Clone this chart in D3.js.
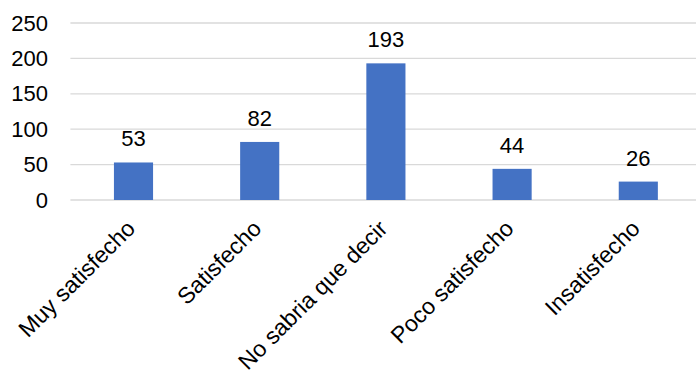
<!DOCTYPE html>
<meta charset="utf-8">
<style>
body { margin: 0; background: #fff; }
svg text { font-family: Arial, "Liberation Sans", sans-serif; fill: #000; }
.grid line { stroke: #d9d9d9; stroke-width: 1.3px; }
.bar { fill: #4472c4; }
</style>
<body>
<script src="https://d3js.org/d3.v7.min.js"></script>
<script>

// data
var categories = ["Muy satisfecho", "Satisfecho", "No sabria que decir", "Poco satisfecho", "Insatisfecho"];
var counts = [53, 82, 193, 44, 26];
var yTicks = [0, 50, 100, 150, 200, 250];

var width = 696, height = 375;

var svg = d3.select("body").append("svg")
    .attr("width", width)
    .attr("height", height);

// scales
var x = d3.scaleBand()
    .domain(categories)
    .range([70.4, 701.4])
    .paddingInner(0.69)
    .paddingOuter(0.345);

var y = d3.scaleLinear()
    .domain([0, 250])
    .range([200, 23]);

// gridlines
svg.append("g")
    .attr("class", "grid")
  .selectAll("line")
    .data(yTicks)
  .enter().append("line")
    .attr("x1", 70.4)
    .attr("x2", 701.4)
    .attr("y1", function(d) { return y(d); })
    .attr("y2", function(d) { return y(d); });

// y axis labels
var yAxis = svg.append("g")
    .attr("transform", "translate(48,0)")
    .call(d3.axisLeft(y).tickValues(yTicks).tickSize(0).tickPadding(0));
yAxis.select(".domain").remove();
yAxis.selectAll("text")
    .style("font-size", "22px")
    .style("font-family", "Arial, 'Liberation Sans', sans-serif")
    .attr("fill", "#000");

// bars
var data = categories.map(function(c, i) { return {cat: c, value: counts[i]}; });

svg.selectAll(".bar")
    .data(data)
  .enter().append("rect")
    .attr("class", "bar")
    .attr("x", function(d) { return x(d.cat); })
    .attr("width", x.bandwidth())
    .attr("y", function(d) { return y(d.value); })
    .attr("height", function(d) { return y(0) - y(d.value); });

// value labels
svg.selectAll(".value")
    .data(data)
  .enter().append("text")
    .attr("class", "value")
    .attr("x", function(d) { return x(d.cat) + x.bandwidth() / 2; })
    .attr("y", function(d) { return y(d.value) - 16; })
    .attr("text-anchor", "middle")
    .style("font-size", "22px")
    .text(function(d) { return d.value; });

// rotated category labels
svg.selectAll(".cat")
    .data(categories)
  .enter().append("text")
    .attr("class", "cat")
    .attr("transform", function(d) {
      return "translate(" + (x(d) + x.bandwidth() / 2 + 3) + ",230) rotate(-45)";
    })
    .attr("text-anchor", "end")
    .style("font-size", "23px")
    .text(function(d) { return d; });

</script>
</body>
